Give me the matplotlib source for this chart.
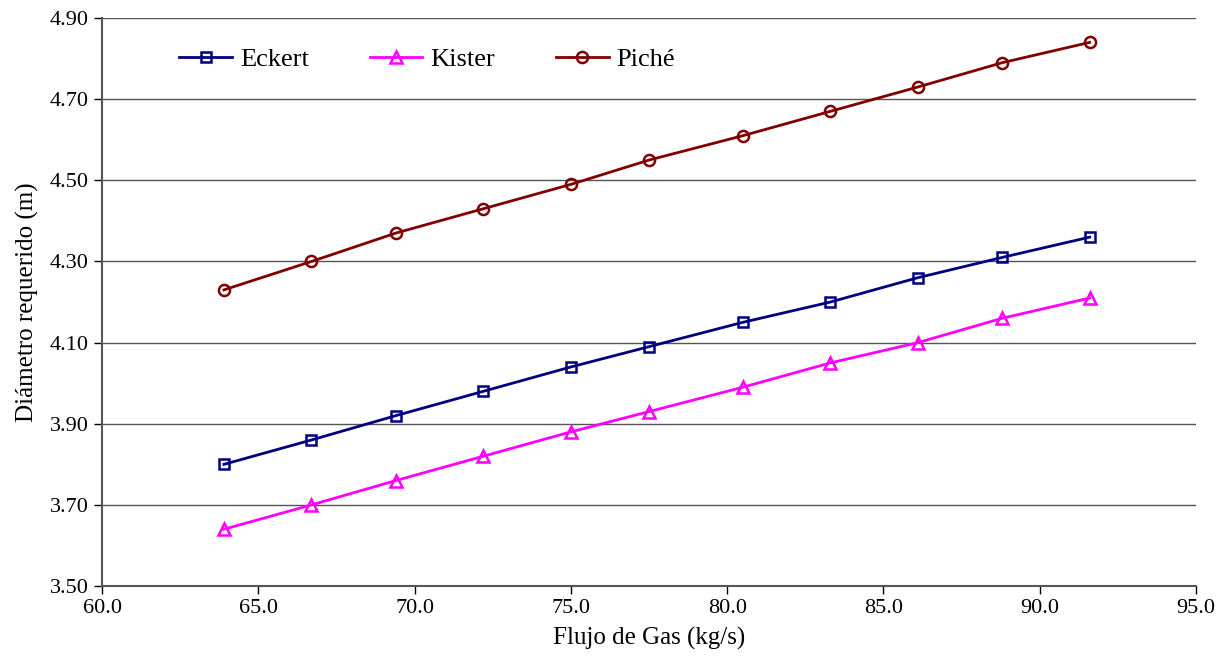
import matplotlib
matplotlib.use("Agg")
import matplotlib.pyplot as plt
import numpy as np

plt.rcParams['font.family'] = ['Liberation Serif', 'DejaVu Serif']

flujo = [63.9, 66.7, 69.4, 72.2, 75.0, 77.5, 80.5, 83.3, 86.1, 88.8, 91.6]
eckert = [3.80, 3.86, 3.92, 3.98, 4.04, 4.09, 4.15, 4.20, 4.26, 4.31, 4.36]
kister = [3.64, 3.70, 3.76, 3.82, 3.88, 3.93, 3.99, 4.05, 4.10, 4.16, 4.21]
piche = [4.23, 4.30, 4.37, 4.43, 4.49, 4.55, 4.61, 4.67, 4.73, 4.79, 4.84]

fig = plt.figure(figsize=(12.25, 6.69), dpi=100)
ax = fig.add_axes([0.0833, 0.124, 0.893, 0.849])

ax.plot(flujo, eckert, color='#000080', lw=2, marker='s', ms=7, mfc='none', mec='#000080', mew=1.8, label='Eckert')
ax.plot(flujo, kister, color='#FF00FF', lw=2, marker='^', ms=8, mfc='none', mec='#FF00FF', mew=1.8, label='Kister')
ax.plot(flujo, piche, color='#800000', lw=2, marker='o', ms=8, mfc='none', mec='#800000', mew=1.8, label='Piché')

ax.set_xlim(60, 95)
ax.set_ylim(3.5, 4.9)
ax.set_xticks(np.arange(60, 95.1, 5))
ax.set_yticks(np.arange(3.5, 4.91, 0.2))
ax.set_xticklabels([f"{v:.1f}" for v in np.arange(60, 95.1, 5)])
ax.set_yticklabels([f"{v:.2f}" for v in np.arange(3.5, 4.91, 0.2)])
ax.tick_params(labelsize=16, direction='out', length=6, width=1, colors='black')
ax.yaxis.grid(True, color='#555555', lw=1)
ax.set_axisbelow(True)
for s in ['top', 'right']:
    ax.spines[s].set_visible(False)
for s in ['left', 'bottom']:
    ax.spines[s].set_color('#555555')
    ax.spines[s].set_linewidth(1.5)

ax.set_xlabel('Flujo de Gas (kg/s)', fontsize=18, labelpad=6)
ax.set_ylabel('Diámetro requerido (m)', fontsize=18, labelpad=8)

ax.legend(loc='upper left', bbox_to_anchor=(0.049, 0.99), ncol=3, frameon=False,
          fontsize=19, columnspacing=2.3, handlelength=2.0, handletextpad=0.3)

fig.savefig('out.png', dpi=100)
